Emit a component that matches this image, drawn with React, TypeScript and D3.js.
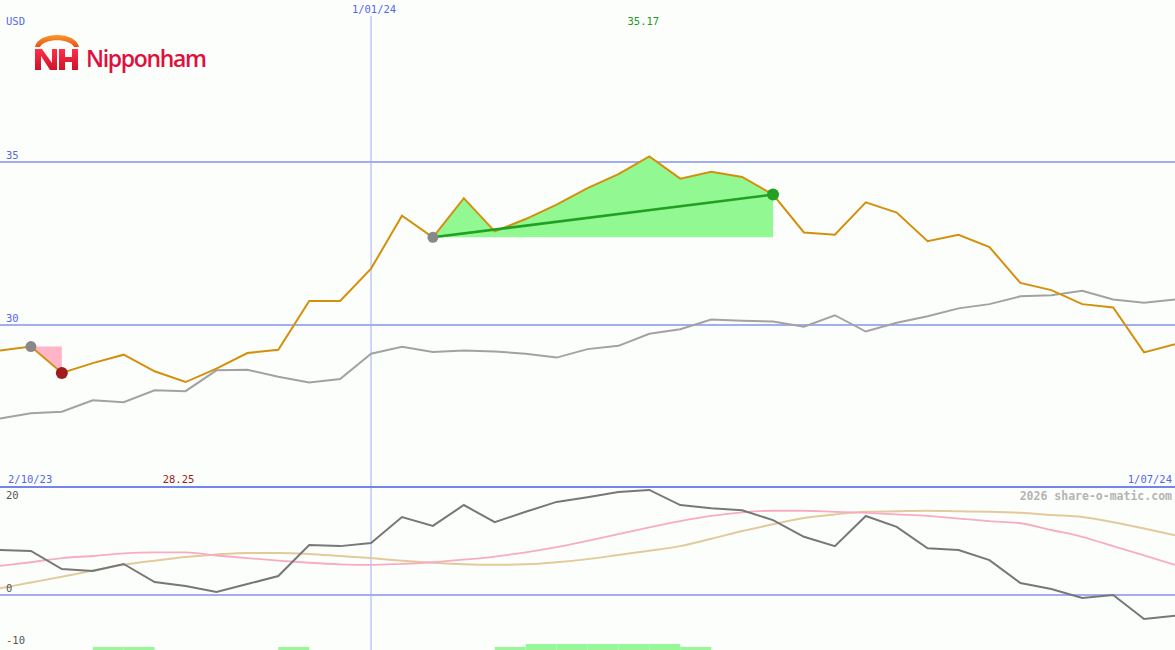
import React from "react";
import * as d3 from "d3";

const W = 1175;
const H = 650;

// weekly closes (USD)
const priceValues = [
  29.22, 29.34, 28.53, 28.83, 29.09, 28.58, 28.25, 28.66, 29.14, 29.24,
  30.74, 30.74, 31.73, 33.35, 32.69, 33.89, 32.87, 33.25, 33.69, 34.2,
  34.63, 35.17, 34.49, 34.7, 34.54, 34.0, 32.84, 32.77, 33.76, 33.45,
  32.57, 32.77, 32.39, 31.29, 31.07, 30.64, 30.54, 29.16, 29.41,
];

// comparison line (grey)
const compareValues = [
  27.13, 27.29, 27.34, 27.69, 27.63, 28.0, 27.97, 28.61, 28.63, 28.41,
  28.24, 28.34, 29.12, 29.33, 29.17, 29.22, 29.19, 29.12, 29.0, 29.26,
  29.36, 29.73, 29.87, 30.17, 30.13, 30.11, 29.95, 30.3, 29.8, 30.07,
  30.27, 30.51, 30.64, 30.88, 30.91, 31.05, 30.78, 30.68, 30.78,
];

// lower panel oscillator
const momentumValues = [
  8.65, 8.46, 5.0, 4.6, 5.96, 2.5, 1.73, 0.58, 2.1, 3.65,
  9.6, 9.4, 10.0, 15.0, 13.3, 17.3, 14.0, 16.0, 17.9, 18.8,
  19.8, 20.2, 17.3, 16.7, 16.3, 14.4, 11.2, 9.4, 15.2, 13.1,
  9.0, 8.65, 6.7, 2.3, 1.15, -0.58, 0.0, -4.6, -4.0,
];
const pinkValues = [
  5.6, 6.3, 7.1, 7.5, 8.0, 8.2, 8.2, 7.6, 7.1, 6.6,
  6.2, 5.9, 5.8, 6.0, 6.3, 6.8, 7.4, 8.2, 9.2, 10.4,
  11.7, 13.0, 14.2, 15.2, 15.9, 16.2, 16.2, 16.0, 15.8, 15.5,
  15.2, 14.7, 14.2, 13.8, 12.5, 11.2, 9.4, 7.6, 5.8,
];
const tanValues = [
  1.3, 2.4, 3.5, 4.7, 5.8, 6.6, 7.3, 7.8, 8.1, 8.1,
  7.9, 7.5, 7.1, 6.6, 6.2, 5.9, 5.8, 5.9, 6.3, 6.9,
  7.7, 8.5, 9.4, 10.8, 12.3, 13.6, 14.8, 15.5, 16.0, 16.1,
  16.2, 16.1, 16.0, 15.8, 15.4, 15.0, 14.0, 12.8, 11.5,
];
// signal bars at the bottom (0 = none)
const barValues = [
  0, 0, 0, 1, 1, 0, 0, 0, 0, 1,
  0, 0, 0, 0, 0, 0, 1, 2, 2, 2,
  2, 2, 1, 0, 0, 0, 0, 0, 0, 0,
  0, 0, 0, 0, 0, 0, 0, 0, 0,
];

const priceTicks = [35, 30];
const lowerTicks = [20, 0, -10];
const startLabel = "2/10/23";
const endLabel = "1/07/24";
const yearLabel = "1/01/24";
const yearIndex = 12;
const downTrend = [1, 2];
const upTrend = [14, 25];

const BLUE = "#5566ee";
const GRID = "#a4acf2";
const MONO = "'DejaVu Sans Mono', monospace";

export default function App() {
  const n = priceValues.length;
  const x = d3.scaleLinear().domain([0, n - 1]).range([0, W]);
  const y = d3.scaleLinear().domain([30, 35]).range([325, 162]);
  const yLow = d3.scaleLinear().domain([0, -10]).range([595, 647]);
  const yBar = d3.scaleLinear().domain([0, 2]).range([650, 644]);

  const line = d3
    .line<number>()
    .x((_, i) => x(i))
    .y((d) => y(d));
  const lowLine = d3
    .line<number>()
    .x((_, i) => x(i))
    .y((d) => yLow(d));
  const smoothLine = d3
    .line<number>()
    .x((_, i) => x(i))
    .y((d) => yLow(d))
    .curve(d3.curveMonotoneX);

  // fill between the price line and the level where the trend started
  const trendArea = (from: number, to: number) => {
    const base = priceValues[from];
    const idx = d3.range(from, to + 1);
    return d3
      .area<number>()
      .x((i) => x(i))
      .y0(y(base))
      .y1((i) => y(priceValues[i]))(idx) as string;
  };

  const maxIdx = d3.maxIndex(priceValues);
  const minIdx = d3.minIndex(priceValues);

  return (
    <svg
      width={W}
      height={H}
      style={{ position: "absolute", left: 0, top: 0, background: "#fcfefc" }}
    >
      <defs>
        <linearGradient id="arcGrad" x1="0" y1="0" x2="0" y2="1">
          <stop offset="0%" stopColor="#fa9a28" />
          <stop offset="100%" stopColor="#e8501a" />
        </linearGradient>
        <linearGradient id="nhGrad" x1="0" y1="0" x2="0" y2="1">
          <stop offset="0%" stopColor="#ff3048" />
          <stop offset="100%" stopColor="#d0102a" />
        </linearGradient>
      </defs>

      {/* grid */}
      <line x1={x(yearIndex)} x2={x(yearIndex)} y1={16} y2={H} stroke={GRID} strokeWidth={1} />
      {priceTicks.map((t) => (
        <g key={t}>
          <line x1={0} x2={W} y1={y(t)} y2={y(t)} stroke={GRID} strokeWidth={2} />
          <text x={6} y={y(t) - 3} fontFamily={MONO} fontSize={10.5} fill={BLUE}>
            {t}
          </text>
        </g>
      ))}
      <line x1={0} x2={W} y1={yLow(0)} y2={yLow(0)} stroke={GRID} strokeWidth={2} />
      <line x1={0} x2={W} y1={487} y2={487} stroke="#7484ea" strokeWidth={2} />

      {/* trend fills */}
      <path d={trendArea(downTrend[0], downTrend[1])} fill="#ffb4c8" />
      <path d={trendArea(upTrend[0], upTrend[1])} fill="#92f892" />

      {/* price lines */}
      <path d={line(compareValues) as string} fill="none" stroke="#a2a2a2" strokeWidth={2} />
      <path d={line(priceValues) as string} fill="none" stroke="#d4900c" strokeWidth={2} />

      <line
        x1={x(upTrend[0])}
        y1={y(priceValues[upTrend[0]])}
        x2={x(upTrend[1])}
        y2={y(priceValues[upTrend[1]])}
        stroke="#22a022"
        strokeWidth={2.5}
      />
      <circle cx={x(downTrend[0])} cy={y(priceValues[downTrend[0]])} r={5.5} fill="#888" />
      <circle cx={x(downTrend[1])} cy={y(priceValues[downTrend[1]])} r={6} fill="#a01c1c" />
      <circle cx={x(upTrend[0])} cy={y(priceValues[upTrend[0]])} r={5.5} fill="#888" />
      <circle cx={x(upTrend[1])} cy={y(priceValues[upTrend[1]])} r={6} fill="#22a022" />

      {/* lower panel */}
      {barValues.map((v, i) =>
        v > 0 ? (
          <rect
            key={i}
            x={x(i)}
            width={x(i + 1) - x(i)}
            y={yBar(v)}
            height={yBar(0) - yBar(v)}
            fill="#96f896"
          />
        ) : null
      )}
      <path d={smoothLine(tanValues) as string} fill="none" stroke="#e2ca9c" strokeWidth={2} />
      <path d={smoothLine(pinkValues) as string} fill="none" stroke="#f8acc4" strokeWidth={1.8} />
      <path d={lowLine(momentumValues) as string} fill="none" stroke="#777" strokeWidth={2} />
      {lowerTicks.map((t) => (
        <text
          key={t}
          x={6}
          y={Math.max(499, Math.min(646, yLow(t) - 3))}
          fontFamily={MONO}
          fontSize={10.5}
          fill="#555"
        >
          {t}
        </text>
      ))}

      {/* labels */}
      <text x={6} y={25} fontFamily={MONO} fontSize={10.5} fill={BLUE}>USD</text>
      <text x={x(yearIndex) + 3} y={13} textAnchor="middle" fontFamily={MONO} fontSize={10.5} fill={BLUE}>
        {yearLabel}
      </text>
      <text x={x(maxIdx) - 6} y={25} textAnchor="middle" fontFamily={MONO} fontSize={10.5} fill="#229a22">
        {priceValues[maxIdx].toFixed(2)}
      </text>
      <text x={8} y={483} fontFamily={MONO} fontSize={10.5} fill={BLUE}>{startLabel}</text>
      <text x={x(minIdx) - 7} y={483} textAnchor="middle" fontFamily={MONO} fontSize={10.5} fill="#a01c1c">
        {priceValues[minIdx].toFixed(2)}
      </text>
      <text x={1172} y={483} textAnchor="end" fontFamily={MONO} fontSize={10.5} fill={BLUE}>{endLabel}</text>
      <text x={1172} y={500} textAnchor="end" fontFamily={MONO} fontSize={11.5} fontWeight="bold" fill="#b4b4b4">
        2026 share-o-matic.com
      </text>

      {/* logo */}
      <g>
        <path d="M35,47 C38,31 76,31 79,47 L74,47 C70,38 44,38 40,47 Z" fill="url(#arcGrad)" />
        <path
          d="M35,49 L42,49 L52,63 L52,49 L57,49 L57,70 L50,70 L41,56 L41,70 L35,70 Z"
          fill="url(#nhGrad)"
        />
        <path
          d="M59,49 L65,49 L65,57 L72,57 L72,49 L78,49 L78,70 L72,70 L72,62 L65,62 L65,70 L59,70 Z"
          fill="url(#nhGrad)"
        />
        <text
          x={86}
          y={67}
          fontFamily="'Open Sans', 'Noto Sans', sans-serif"
          fontWeight={600}
          fontSize={23}
          fill="#e0103c"
          textLength={121}
        >
          Nipponham
        </text>
      </g>
    </svg>
  );
}
